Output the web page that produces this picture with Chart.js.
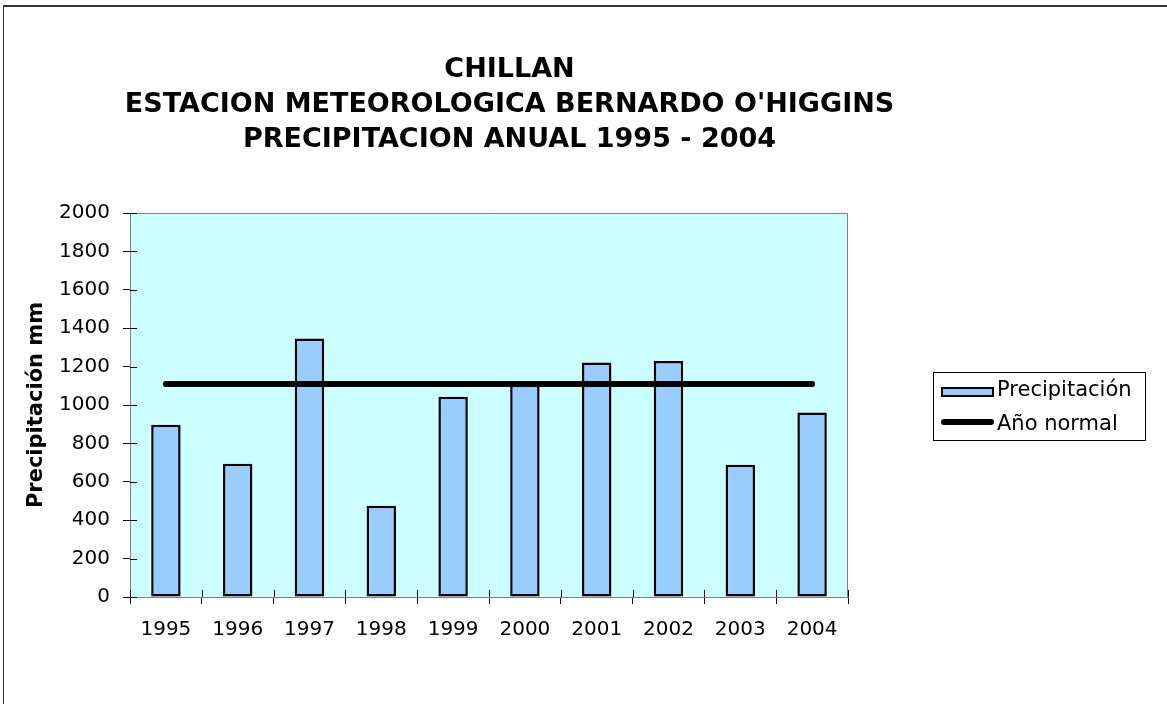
<!DOCTYPE html>
<html>
<head>
<meta charset="utf-8">
<title>Chillan - Precipitacion anual 1995 - 2004</title>
<script src="https://cdn.jsdelivr.net/npm/chart.js@4.4.1/dist/chart.umd.min.js"></script>
<style>
  body { margin: 0; background: #fff; }
  canvas { display: block; }
</style>
</head>
<body>
<canvas id="chartPrecip" width="1167" height="704"></canvas>
<script>
// datos
const years = ['1995', '1996', '1997', '1998', '1999', '2000', '2001', '2002', '2003', '2004'];
const precipitacion = [897, 694, 1347, 475, 1043, 1105, 1222, 1229, 689, 961];
const anoNormal = [1110, 1110, 1110, 1110, 1110, 1110, 1110, 1110, 1110, 1110];
const yMin = 0;
const yMax = 2000;
const yStep = 200;
const titleLines = ['CHILLAN', "ESTACION METEOROLOGICA BERNARDO O'HIGGINS", 'PRECIPITACION ANUAL 1995 - 2004'];
const yTitle = 'Precipitación mm';

const FONT = "'DejaVu Sans', Verdana, sans-serif";

// marco exterior y fondo del area de trazado
const framePlugin = {
  id: 'frame',
  beforeDraw(chart) {
    const ctx = chart.ctx;
    const a = chart.chartArea;
    ctx.save();
    ctx.fillStyle = '#fff';
    ctx.fillRect(0, 0, chart.width, chart.height);
    ctx.fillStyle = '#ccffff';
    ctx.fillRect(a.left, a.top, a.right - a.left, a.bottom - a.top);
    ctx.strokeStyle = '#333';
    ctx.lineWidth = 2;
    ctx.beginPath();
    ctx.moveTo(3, 6);
    ctx.lineTo(chart.width, 6);
    ctx.stroke();
    ctx.lineWidth = 1;
    ctx.beginPath();
    ctx.moveTo(3.5, 6);
    ctx.lineTo(3.5, chart.height);
    ctx.stroke();
    ctx.restore();
  },
  beforeDatasetsDraw(chart) {
    const ctx = chart.ctx;
    const a = chart.chartArea;
    ctx.save();
    // borde gris arriba y derecha
    ctx.strokeStyle = '#808080';
    ctx.lineWidth = 1;
    ctx.beginPath();
    ctx.moveTo(a.left, a.top + 0.5);
    ctx.lineTo(a.right - 0.5, a.top + 0.5);
    ctx.lineTo(a.right - 0.5, a.bottom);
    ctx.stroke();
    // media marca de tick hacia dentro
    ctx.strokeStyle = '#000';
    ctx.beginPath();
    const ys = chart.scales.y;
    ys.ticks.forEach((t, i) => {
      const py = Math.round(ys.getPixelForTick(i)) + 0.5;
      ctx.moveTo(a.left, py);
      ctx.lineTo(a.left + 7, py);
    });
    for (let i = 0; i <= years.length; i++) {
      const px = Math.round(a.left + (a.right - a.left) * i / years.length) + 0.5;
      ctx.moveTo(px, a.bottom);
      ctx.lineTo(px, a.bottom - 7);
    }
    ctx.stroke();
    ctx.restore();
  }
};

// titulo de tres lineas
const titlePlugin = {
  id: 'chartTitle',
  afterDraw(chart) {
    const ctx = chart.ctx;
    ctx.save();
    ctx.font = 'bold 27px ' + FONT;
    ctx.fillStyle = '#000';
    ctx.textAlign = 'center';
    ctx.textBaseline = 'alphabetic';
    const base = [77, 112, 147];
    for (let i = 0; i < titleLines.length; i++) {
      ctx.fillText(titleLines[i], 509.5, base[i]);
    }
    ctx.restore();
  }
};

// leyenda con recuadro
const legendPlugin = {
  id: 'boxLegend',
  afterDraw(chart) {
    const ctx = chart.ctx;
    const ds = chart.data.datasets;
    ctx.save();
    ctx.strokeStyle = '#000';
    ctx.lineWidth = 1;
    ctx.strokeRect(933.5, 372.5, 212, 68);

    ctx.fillStyle = ds[1].backgroundColor;
    ctx.fillRect(941, 387, 53, 10);
    ctx.lineWidth = 2;
    ctx.strokeRect(942, 388, 51, 8);

    ctx.lineWidth = 6;
    ctx.lineCap = 'round';
    ctx.beginPath();
    ctx.moveTo(944, 422);
    ctx.lineTo(991, 422);
    ctx.stroke();

    ctx.font = '21px ' + FONT;
    ctx.fillStyle = '#000';
    ctx.textAlign = 'left';
    ctx.textBaseline = 'middle';
    ctx.fillText(ds[1].label, 997, 391);
    ctx.fillText(ds[0].label, 997, 425);
    ctx.restore();
  }
};

function initChart() {
  const canvas = document.getElementById('chartPrecip');
  const setup = {
    type: 'bar',
    data: {
      labels: years,
      datasets: [
        {
          type: 'line',
          label: 'Año normal',
          data: anoNormal,
          borderColor: '#000',
          borderWidth: 6,
          borderCapStyle: 'round',
          pointRadius: 0,
          tension: 0,
          order: 0
        },
        {
          type: 'bar',
          label: 'Precipitación',
          data: precipitacion,
          backgroundColor: '#99ccff',
          borderColor: '#000',
          borderWidth: 2.5,
          borderSkipped: false,
          barPercentage: 0.41,
          categoryPercentage: 1.0,
          order: 1
        }
      ]
    },
    options: {
      responsive: false,
      animation: false,
      layout: {
        padding: { top: 213, left: 4, right: 319, bottom: 47 }
      },
      plugins: {
        legend: { display: false },
        title: { display: false },
        tooltip: { enabled: false }
      },
      scales: {
        x: {
          offset: true,
          grid: {
            offset: true,
            drawOnChartArea: false,
            drawTicks: true,
            tickLength: 7,
            color: '#000'
          },
          border: { color: '#808080', width: 1 },
          ticks: {
            color: '#000',
            font: { family: FONT, size: 20 },
            padding: 14,
            maxRotation: 0
          },
          afterFit: (s) => { s.height = 60; }
        },
        y: {
          min: yMin,
          max: yMax,
          grid: {
            drawOnChartArea: false,
            drawTicks: true,
            tickLength: 7,
            color: '#000'
          },
          border: { color: '#808080', width: 1 },
          ticks: {
            stepSize: yStep,
            color: '#000',
            font: { family: FONT, size: 20 },
            padding: 13,
            callback: (v) => String(v)
          },
          title: {
            display: true,
            text: yTitle,
            color: '#000',
            font: { family: FONT, size: 21, weight: 'bold' },
            padding: { top: 20, bottom: 0 }
          },
          afterFit: (s) => { s.width = 126; }
        }
      }
    },
    plugins: [framePlugin, titlePlugin, legendPlugin]
  };
  new Chart(canvas, setup);
}

initChart();
</script>
</body>
</html>
